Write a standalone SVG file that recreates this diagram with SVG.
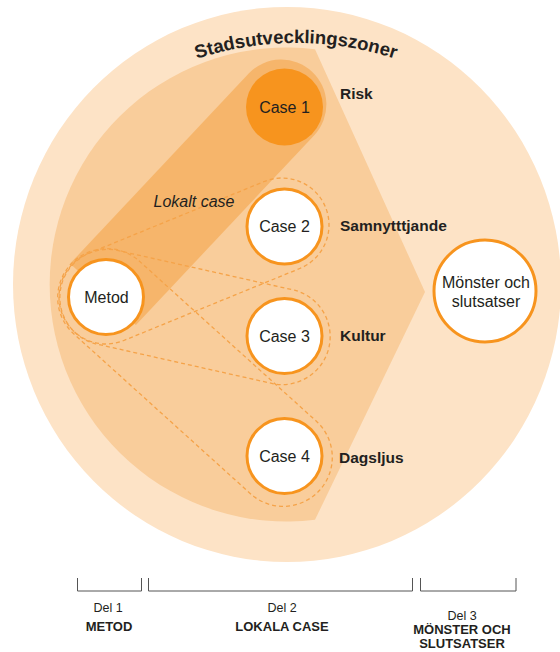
<svg xmlns="http://www.w3.org/2000/svg" width="560" height="652" viewBox="0 0 560 652">
<style>
.t{font-family:"Liberation Sans",Arial,sans-serif;fill:#231f20}
.case{font-size:16px;text-anchor:middle}
.lbl{font-size:15.5px;font-weight:bold}
.node{fill:#ffffff;stroke:#f7941e;stroke-width:3}
.dash{fill:none;stroke:#f5a349;stroke-width:1.3;stroke-dasharray:4 3}
.br{fill:none;stroke:#555555;stroke-width:1}
.foot{font-size:12.5px;text-anchor:middle}
.bold{font-weight:bold;font-size:13px}
</style>
<defs>
<path id="titleArc" d="M -24,363 A 320 320 0 0 1 616,363"/>
</defs>
<g id="zones">
<ellipse cx="287" cy="284.5" rx="274" ry="277.5" fill="#fde3c6"/>
<path d="M 315,49.2 L 425,292 L 315,519.8 A 237 237 0 1 1 315,49.2 Z" fill="#f9cd9b"/>
<path id="lokalt-band" d="M 70.1,263.6 L 248.7,73.6 A 45 45 0 0 1 314.5,135 L 135.9,325 Z" fill="#f6b56b"/>
</g>
<g id="connectors">
<path class="dash" d="M 88.2,253.5 L 264.2,181.5 A 47 47 0 0 1 299.8,268.5 L 123.8,340.5 A 47 47 0 0 1 88.2,253.5 Z"/>
<path class="dash" d="M 116.5,250.2 L 294.5,290.2 A 48 48 0 0 1 273.5,383.8 L 95.5,343.8 A 48 48 0 0 1 116.5,250.2 Z"/>
<path class="dash" d="M 138.9,260.7 L 316.9,421.7 A 49 49 0 0 1 251.1,494.3 L 73.1,333.3 A 49 49 0 0 1 138.9,260.7 Z"/>
</g>
<g id="title">
<text class="t" font-weight="bold" font-size="18.5"><textPath href="#titleArc" startOffset="50%" text-anchor="middle">Stadsutvecklingszoner</textPath></text>
</g>
<g id="case1">
<circle cx="284.5" cy="107" r="38.5" fill="#f7941e"/>
<text class="t case" x="284.5" y="113">Case 1</text>
<text class="t lbl" x="340" y="99">Risk</text>
</g>
<g id="case2">
<circle class="node" cx="284.5" cy="226.5" r="37.5"/>
<text class="t case" x="284.5" y="232">Case 2</text>
<text class="t lbl" x="340" y="231">Samnytttjande</text>
</g>
<g id="case3">
<circle class="node" cx="284.5" cy="336" r="37.5"/>
<text class="t case" x="284.5" y="341.5">Case 3</text>
<text class="t lbl" x="340" y="341">Kultur</text>
</g>
<g id="case4">
<circle class="node" cx="284.5" cy="456" r="37.5"/>
<text class="t case" x="284.5" y="461.5">Case 4</text>
<text class="t lbl" x="339" y="462.5">Dagsljus</text>
</g>
<g id="metod">
<circle class="node" cx="106" cy="297" r="37.5"/>
<text class="t case" x="106.5" y="303">Metod</text>
</g>
<g id="lokalt-case-label">
<text class="t" font-size="16" font-style="italic" x="153.5" y="207">Lokalt case</text>
</g>
<g id="monster">
<circle class="node" cx="485" cy="291" r="51"/>
<text class="t case" x="486" y="288">Mönster och</text>
<text class="t case" x="486" y="306.5">slutsatser</text>
</g>
<g id="parts">
<path class="br" d="M77.5,578 V591 H141.5 V578 M148.5,578 V591 H412.5 V578 M420.5,578 V591 H516 V578"/>
<text class="t foot" x="108" y="612">Del 1</text>
<text class="t foot bold" x="109" y="631">METOD</text>
<text class="t foot" x="282" y="612">Del 2</text>
<text class="t foot bold" x="282" y="631">LOKALA CASE</text>
<text class="t foot" x="462" y="620">Del 3</text>
<text class="t foot bold" x="462" y="634">MÖNSTER OCH</text>
<text class="t foot bold" x="462" y="648">SLUTSATSER</text>
</g>
</svg>
